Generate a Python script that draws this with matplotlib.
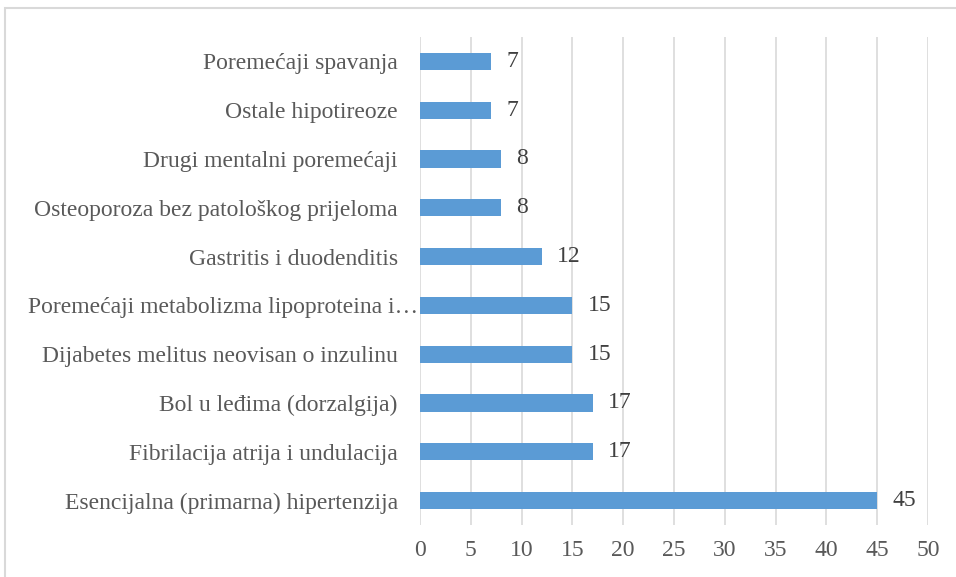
import matplotlib
matplotlib.use("Agg")
import matplotlib.pyplot as plt
from matplotlib.patches import Rectangle
import matplotlib.transforms as mtransforms

categories = [
    "Esencijalna (primarna) hipertenzija",
    "Fibrilacija atrija i undulacija",
    "Bol u leđima (dorzalgija)",
    "Dijabetes melitus neovisan o inzulinu",
    "Poremećaji metabolizma lipoproteina i…",
    "Gastritis i duodenditis",
    "Osteoporoza bez patološkog prijeloma",
    "Drugi mentalni poremećaji",
    "Ostale hipotireoze",
    "Poremećaji spavanja",
]
values = [45, 17, 17, 15, 15, 12, 8, 8, 7, 7]
xticks = [0, 5, 10, 15, 20, 25, 30, 35, 40, 45, 50]

plt.rcParams['font.family'] = ['Liberation Serif', 'DejaVu Serif']
text_color = '#595959'
value_color = '#404040'
bar_color = '#5B9BD5'
grid_color = '#D9D9D9'

fig = plt.figure(figsize=(9.56, 5.77), dpi=100)
ax = fig.add_axes([420/956, 1-525/577, (928-420)/956, (525-37)/577])

y = list(range(len(categories)))
ax.barh(y, values, height=0.35, color=bar_color, zorder=3)
for yi, v in zip(y, values):
    ax.annotate(str(v), xy=(v, yi), xytext=(11, 0), textcoords='offset points',
                va='center', ha='left', fontsize=17, color=value_color)

ax.set_xlim(0, 50)
ax.set_ylim(-0.5, len(categories) - 0.5)
ax.set_yticks(y)
ax.set_yticklabels(categories, fontsize=17, color=text_color)
ax.set_xticks(xticks)
ax.set_xticklabels([str(t) for t in xticks], fontsize=17, color=text_color)
ax.tick_params(axis='both', length=0)
ax.tick_params(axis='y', pad=16)
ax.tick_params(axis='x', pad=11)
ax.grid(axis='x', color=grid_color, linewidth=1.2, zorder=0)
for s in ax.spines.values():
    s.set_visible(False)

# truncated label overflows toward the bar in the original
for lbl in ax.get_yticklabels():
    if lbl.get_text().endswith('…'):
        lbl.set_transform(lbl.get_transform() +
                          mtransforms.ScaledTranslation(20/100, 0, fig.dpi_scale_trans))

fig.patches.append(Rectangle((5/956, -0.1), 1.2, 1 - 8/577 + 0.1, transform=fig.transFigure,
                             fill=False, edgecolor='#D9D9D9', linewidth=1.5, zorder=0))

fig.savefig('out.png', dpi=100)
